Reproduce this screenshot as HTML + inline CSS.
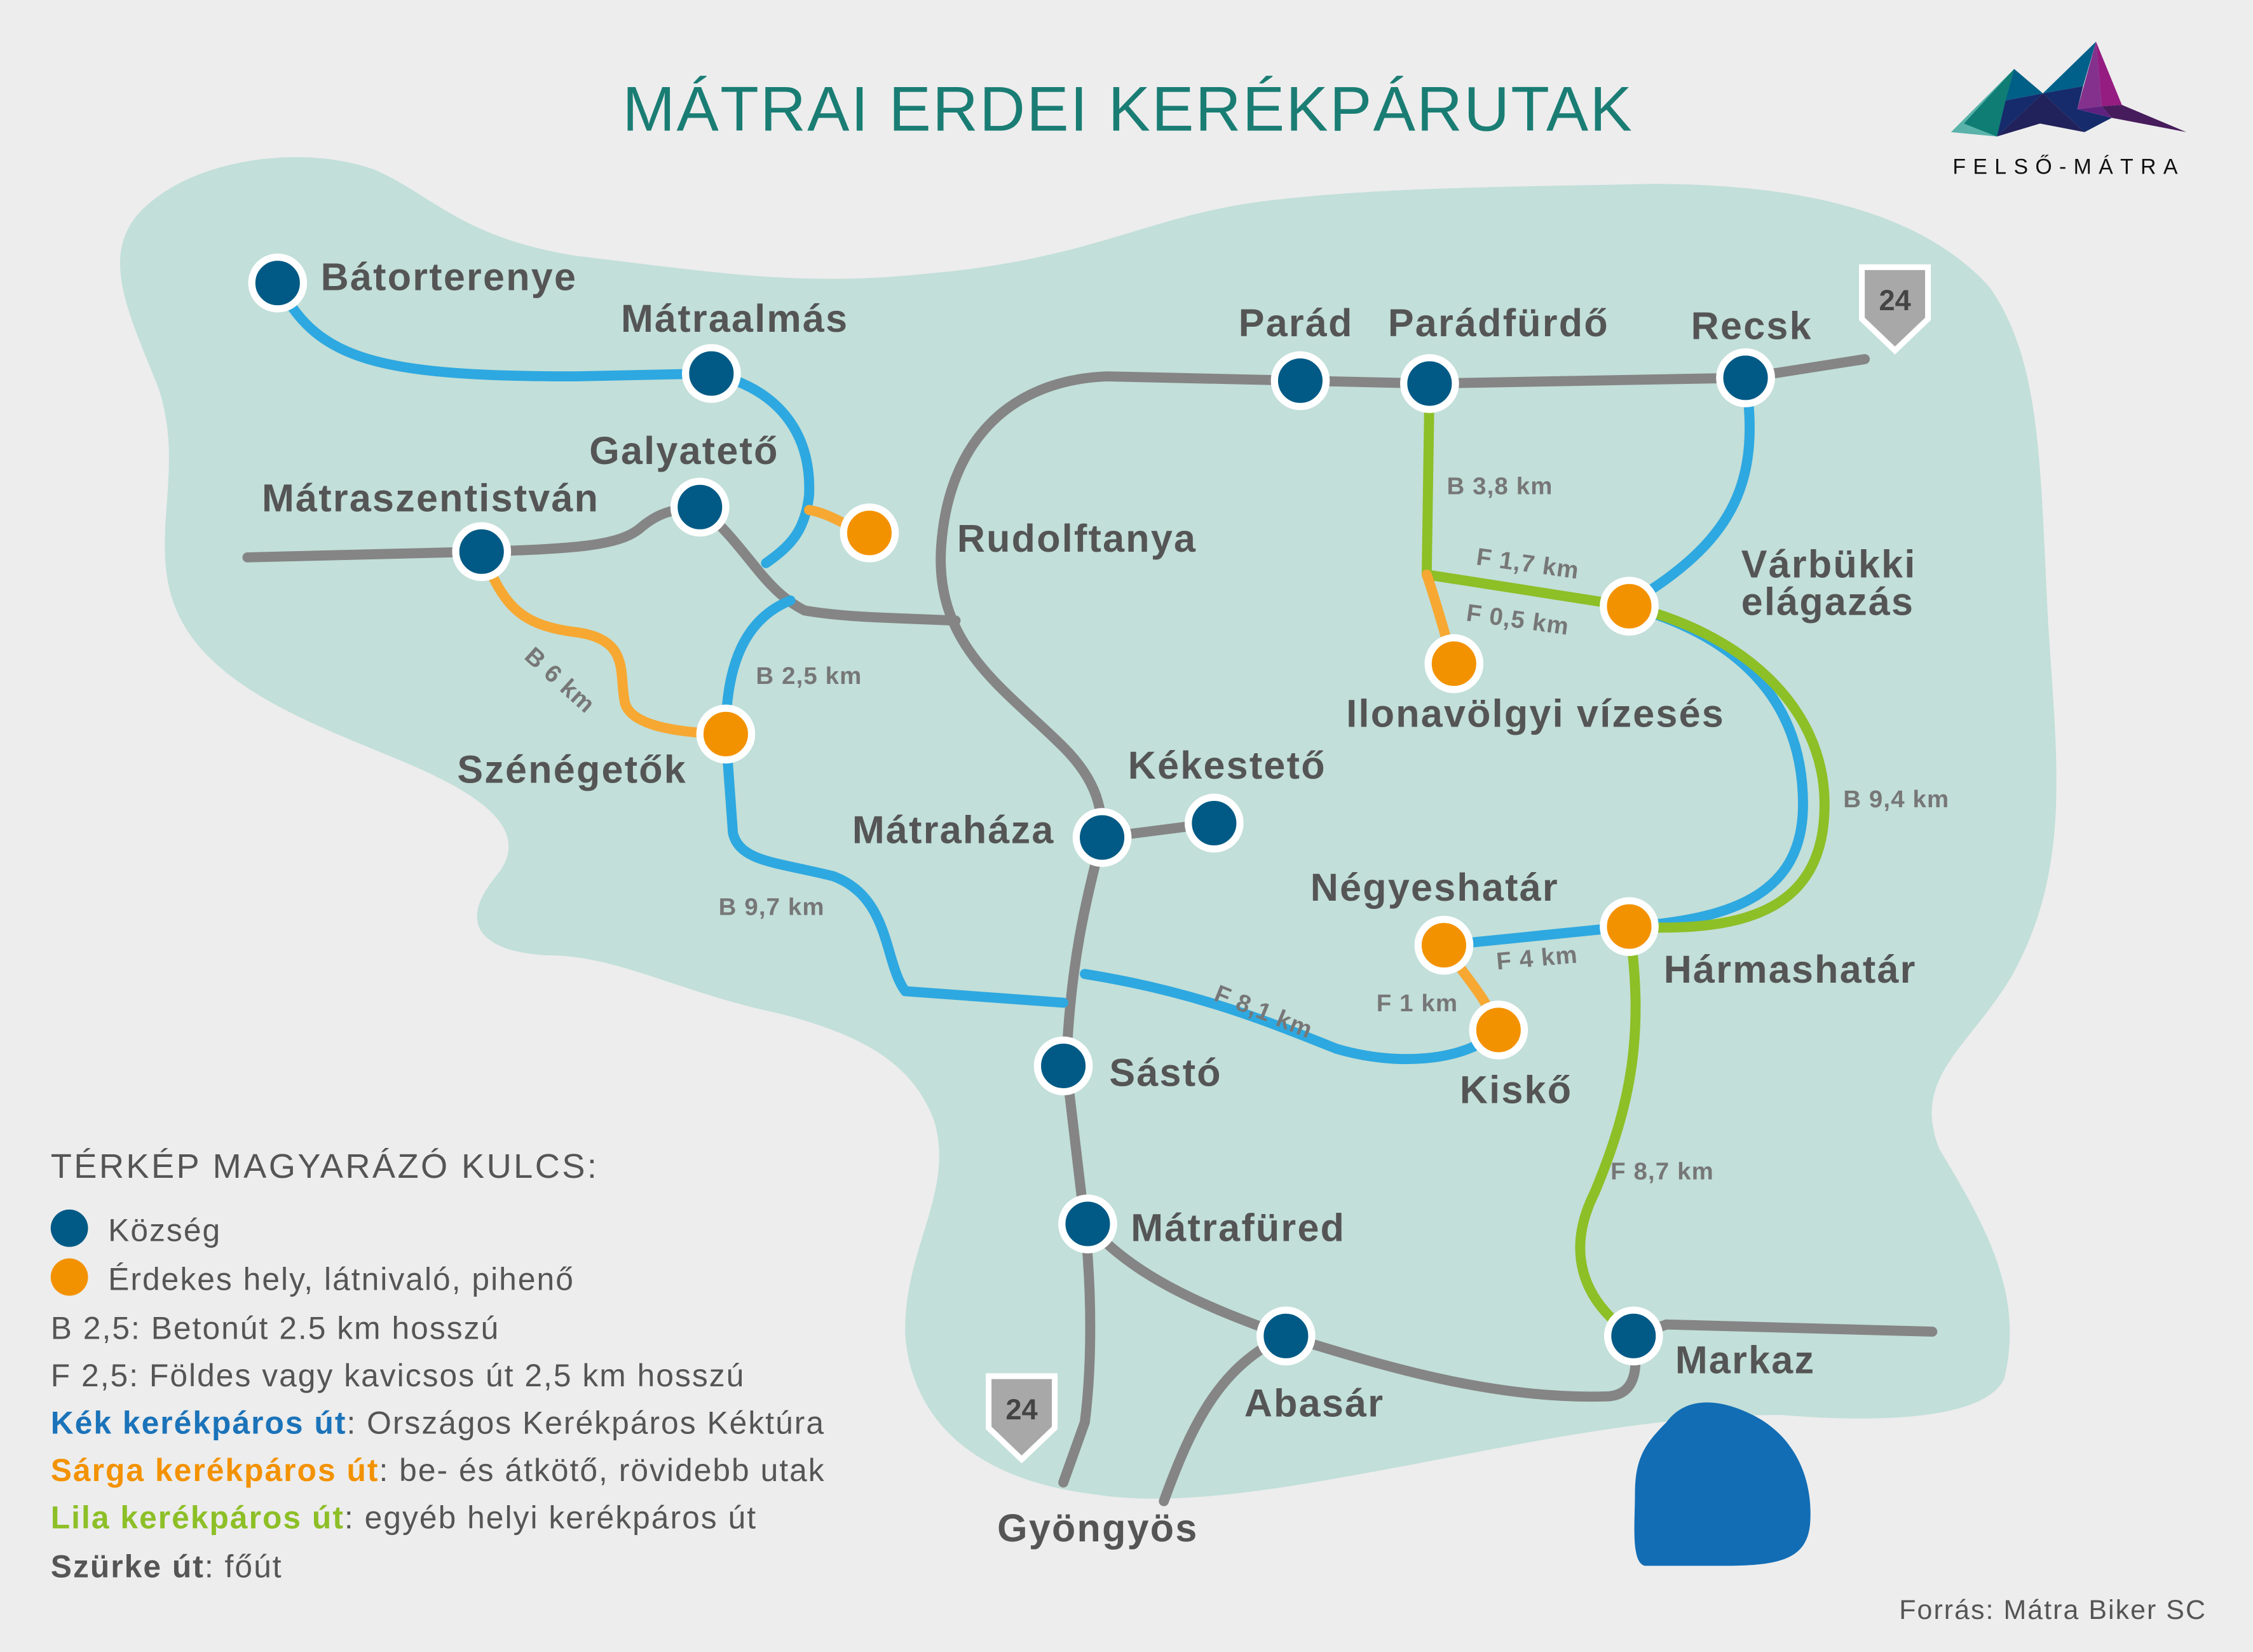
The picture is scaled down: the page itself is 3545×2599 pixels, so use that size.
<!DOCTYPE html>
<html><head><meta charset="utf-8"><style>
html,body{margin:0;padding:0;background:#ededed}
svg{display:block}
text{font-family:"Liberation Sans",sans-serif}
.lb{font-size:27px;font-weight:bold;fill:#555;letter-spacing:1px}
.rl{font-size:17px;font-weight:bold;fill:#777;letter-spacing:0.5px}
.lg{font-size:22px;fill:#555;letter-spacing:0.9px}
</style></head><body>
<svg width="3545" height="2599" viewBox="0 0 1568 1150" xmlns="http://www.w3.org/2000/svg">
<rect width="1568" height="1150" fill="#ededed"/>
<path d="M95,150 C130,110 210,100 260,118 C300,135 320,165 400,178 C500,190 560,200 650,190 C760,180 800,150 880,140 C960,130 1060,130 1150,128 C1260,128 1340,150 1385,200 C1420,250 1420,320 1425,420 C1430,520 1445,600 1400,680 C1370,730 1330,750 1350,800 C1380,850 1410,900 1395,960 C1380,990 1300,990 1240,985 C1150,985 1060,1005 980,1020 C900,1035 820,1050 760,1040 C680,1030 635,990 630,930 C628,870 665,830 650,780 C635,740 600,720 540,705 C470,690 430,665 380,665 C330,662 320,640 345,610 C370,580 340,555 280,530 C220,505 150,480 125,430 C100,380 130,330 110,270 C90,220 70,180 95,150 Z" fill="#c2dfd9"/>
<path d="M1160,990 C1175,970 1200,975 1220,985 C1250,1000 1262,1030 1260,1060 C1258,1085 1240,1090 1200,1090 L1145,1090 C1135,1088 1138,1060 1138,1040 C1138,1015 1145,1005 1160,990 Z" fill="#126db5"/>
<g fill="none" stroke-linecap="round" stroke-linejoin="round" stroke-width="7">
<g stroke="#858585">
<path d="M172,388 L335,384 C400,382 430,380 445,368 C460,355 470,355 487,353"/>
<path d="M487,353 C520,380 530,410 560,425 C590,430 620,430 665,432"/>
<path d="M1298,250 L1215,263 L995,267 L905,265 L770,262 C700,265 660,310 655,380 C650,450 700,480 740,520 C765,545 767,565 767,583 L845,573"/>
<path d="M767,583 C755,630 745,670 742,742 L755,852 C760,900 760,950 755,990 L740,1032"/>
<path d="M757,852 C790,890 840,910 895,930 C960,950 1040,975 1120,972 C1140,970 1140,950 1137,930 L1160,922 L1345,927"/>
<path d="M895,930 C850,950 830,990 810,1045"/>
</g>
<g stroke="#2ea8e0">
<path d="M193,197 C220,250 260,262 400,262 L495,260 C540,270 565,300 563,345 C560,370 550,380 533,392"/>
<path d="M550,418 C520,430 505,460 505,511 L510,580 C515,600 540,600 580,610 C620,625 615,670 630,690 L740,698"/>
<path d="M755,678 C830,690 880,710 930,730 C970,742 1020,740 1043,717"/>
<path d="M1215,263 C1225,330 1210,370 1150,410"/>
<path d="M1134,422 C1200,440 1255,480 1255,560 C1255,620 1210,640 1134,645 L1005,658"/>
</g>
<g stroke="#8dbf27">
<path d="M995,267 L993,400 L1134,422"/>
<path d="M1134,422 C1210,440 1270,490 1270,560 C1270,630 1220,650 1134,645"/>
<path d="M1134,645 C1145,720 1135,770 1110,830 C1090,870 1100,905 1137,930"/>
</g>
<g stroke="#f6a832">
<path d="M563,355 C580,358 590,368 605,371"/>
<path d="M335,384 C350,420 360,435 400,440 C440,445 430,470 435,490 C440,505 470,510 505,511"/>
<path d="M993,400 C1000,420 1005,440 1012,462"/>
<path d="M1005,658 C1020,680 1035,695 1043,717"/>
</g>
</g>
<g stroke="#fff" stroke-width="5">
<g fill="#015a85">
<circle cx="193" cy="197" r="18"/><circle cx="495" cy="260" r="18"/><circle cx="487" cy="353" r="18"/><circle cx="335" cy="384" r="18"/><circle cx="905" cy="265" r="18"/><circle cx="995" cy="267" r="18"/><circle cx="1215" cy="263" r="18"/><circle cx="767" cy="583" r="18"/><circle cx="845" cy="573" r="18"/><circle cx="740" cy="742" r="18"/><circle cx="757" cy="852" r="18"/><circle cx="895" cy="930" r="18"/><circle cx="1137" cy="930" r="18"/>
</g>
<g fill="#f39200">
<circle cx="605" cy="371" r="18"/><circle cx="505" cy="511" r="18"/><circle cx="1134" cy="422" r="18"/><circle cx="1012" cy="462" r="18"/><circle cx="1134" cy="645" r="18"/><circle cx="1005" cy="658" r="18"/><circle cx="1043" cy="717" r="18"/>
</g>
</g>
<g stroke="#fff" stroke-width="4" fill="#a8a8a8">
<path d="M1296,186 L1342,186 L1342,222 L1319,244 L1296,222 Z"/>
<path d="M688,958 L734,958 L734,994 L711,1016 L688,994 Z"/>
</g>
<text x="1319" y="216" text-anchor="middle" font-size="20" font-weight="bold" fill="#444">24</text>
<text x="711" y="988" text-anchor="middle" font-size="20" font-weight="bold" fill="#444">24</text>
<text x="785" y="91" text-anchor="middle" font-size="44" fill="#1a7d74" letter-spacing="1">MÁTRAI ERDEI KERÉKPÁRUTAK</text>
<g>
<polygon points="1358,92 1402,48 1390,95" fill="#5ab3aa"/>
<polygon points="1367,86 1402,48 1396,70 1390,95" fill="#0f7d74"/>
<polygon points="1402,48 1422,65 1396,70" fill="#005f87"/>
<polygon points="1396,70 1422,65 1390,95" fill="#152b6b"/>
<polygon points="1390,95 1422,65 1451,92 1420,86" fill="#21225b"/>
<polygon points="1422,65 1459,29 1450,60" fill="#006089"/>
<polygon points="1422,65 1450,60 1446,76 1470,82 1451,92" fill="#152b6b"/>
<polygon points="1459,29 1446,76 1463,74" fill="#83318d"/>
<polygon points="1459,29 1463,74 1477,73" fill="#951c81"/>
<polygon points="1446,76 1463,74 1470,82" fill="#5f2180"/>
<polygon points="1463,74 1477,73 1522,92 1470,82" fill="#461c5c"/>
<text x="1440" y="121" text-anchor="middle" font-size="15" fill="#111" letter-spacing="5">FELSŐ-MÁTRA</text>
</g>
<g class="lb">
<text x="223" y="202">Bátorterenye</text>
<text x="432" y="231">Mátraalmás</text>
<text x="410" y="323">Galyatető</text>
<text x="182" y="356">Mátraszentistván</text>
<text x="666" y="384">Rudolftanya</text>
<text x="862" y="234">Parád</text>
<text x="966" y="234">Parádfürdő</text>
<text x="1177" y="236">Recsk</text>
<text x="1212" y="402">Várbükki</text>
<text x="1212" y="428">elágazás</text>
<text x="937" y="506">Ilonavölgyi vízesés</text>
<text x="318" y="545">Szénégetők</text>
<text x="785" y="542">Kékestető</text>
<text x="593" y="587">Mátraháza</text>
<text x="912" y="627">Négyeshatár</text>
<text x="1158" y="684">Hármashatár</text>
<text x="772" y="756">Sástó</text>
<text x="1016" y="768">Kiskő</text>
<text x="787" y="864">Mátrafüred</text>
<text x="1166" y="956">Markaz</text>
<text x="866" y="986">Abasár</text>
<text x="694" y="1073">Gyöngyös</text>
</g>
<g class="rl">
<text x="1007" y="344">B 3,8 km</text>
<text x="1027" y="393" transform="rotate(8 1027 393)">F 1,7 km</text>
<text x="1020" y="432" transform="rotate(8 1020 432)">F 0,5 km</text>
<text x="526" y="476">B 2,5 km</text>
<text x="364" y="458" transform="rotate(42 364 458)">B 6 km</text>
<text x="1283" y="562">B 9,4 km</text>
<text x="500" y="637">B 9,7 km</text>
<text x="1042" y="675" transform="rotate(-5 1042 675)">F 4 km</text>
<text x="958" y="704">F 1 km</text>
<text x="844" y="696" transform="rotate(22 844 696)">F 8,1 km</text>
<text x="1121" y="821">F 8,7 km</text>
</g>
<text x="35" y="820" font-size="24" fill="#555" letter-spacing="1.5">TÉRKÉP MAGYARÁZÓ KULCS:</text>
<circle cx="48" cy="855" r="13" fill="#015a85"/>
<circle cx="48" cy="889" r="13" fill="#f39200"/>
<g class="lg">
<text x="75" y="864">Község</text>
<text x="75" y="898">Érdekes hely, látnivaló, pihenő</text>
<text x="35" y="932">B 2,5: Betonút 2.5 km hosszú</text>
<text x="35" y="965">F 2,5: Földes vagy kavicsos út 2,5 km hosszú</text>
<text x="35" y="998"><tspan fill="#1b73b9" font-weight="bold">Kék kerékpáros út</tspan>: Országos Kerékpáros Kéktúra</text>
<text x="35" y="1031"><tspan fill="#f39200" font-weight="bold">Sárga kerékpáros út</tspan>: be- és átkötő, rövidebb utak</text>
<text x="35" y="1064"><tspan fill="#8dbf27" font-weight="bold">Lila kerékpáros út</tspan>: egyéb helyi kerékpáros út</text>
<text x="35" y="1098"><tspan font-weight="bold">Szürke út</tspan>: főút</text>
<text x="1536" y="1127" text-anchor="end" font-size="19">Forrás: Mátra Biker SC</text>
</g>
</svg>
</body></html>
